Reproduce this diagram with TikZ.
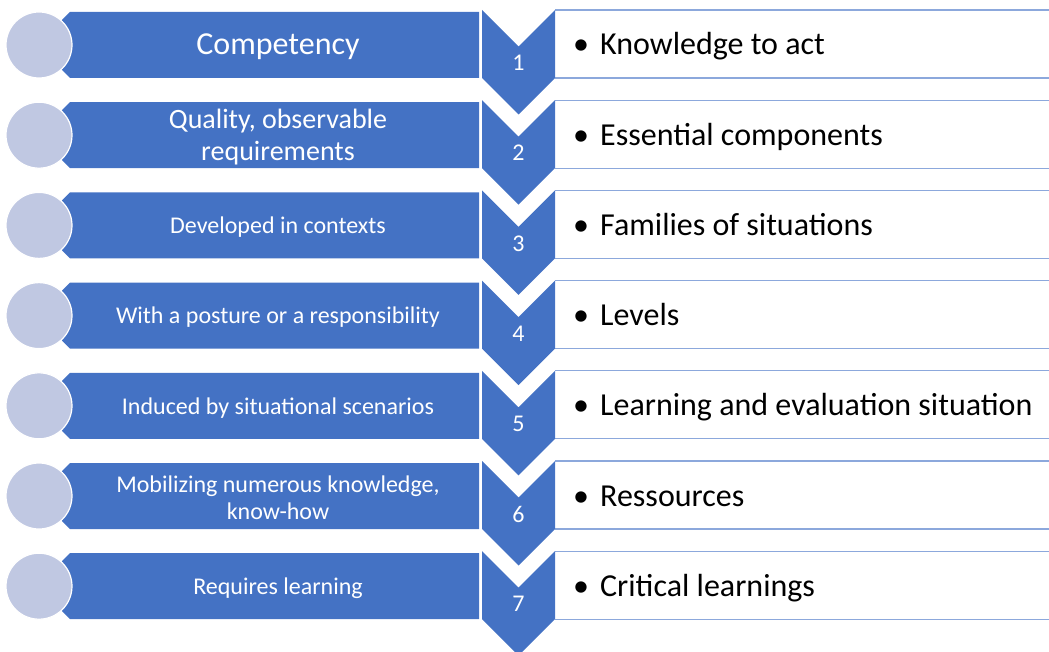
\documentclass[tikz,border=0pt]{standalone}
\usepackage{fontspec}
\setmainfont{Carlito}
\usepackage{xcolor}
\definecolor{barblue}{RGB}{68,114,196}
\definecolor{disccol}{RGB}{192,200,226}
\definecolor{edgeblue}{RGB}{140,168,220}

\begin{document}
\begin{tikzpicture}[x=1pt,y=-1pt,
  barshape/.style={fill=barblue},
  chevshape/.style={fill=barblue},
  disc/.style={circle,fill=disccol,draw=white,line width=1.2pt,minimum size=66pt,inner sep=0pt},
  bartext/.style={text=white,align=center,inner sep=0pt},
  numtext/.style={text=white,font=\fontsize{24}{26}\selectfont},
  itemtext/.style={anchor=base west,inner sep=0pt,text=black,font=\fontsize{32}{36}\selectfont}]
\useasboundingbox (0,0) rectangle (1049,652);

\foreach \i/\s/\lbl/\itm in {
  0/32/{Competency}/{Knowledge to act},
  1/28/{Quality, observable\\requirements}/{Essential components},
  2/24/{Developed in contexts}/{Families of situations},
  3/24/{With a posture or a responsibility}/{Levels},
  4/24/{Induced by situational scenarios}/{Learning and evaluation situation},
  5/24/{Mobilizing numerous knowledge,\\know-how}/{Ressources},
  6/24/{Requires learning}/{Critical learnings}}
{
  \pgfmathsetmacro\t{12+90.2*\i}
  \pgfmathsetmacro\bs{\s*1.12}
  \pgfmathtruncatemacro\n{\i+1}
  % left bar and its disc
  \fill[barshape] (70,\t) -- (479,\t) -- (479,\t+66) -- (70,\t+66)
    -- (62,\t+58) -- (62,\t+8) -- cycle;
  \node[disc] (disc\n) at (39,\t+33) {};
  \node[bartext,font=\fontsize{\s}{\bs}\selectfont] (bar\n) at (278,\t+35) {\lbl};
  % box on the right
  \draw[edgeblue,line width=1.3pt] (555,\t-2) -- (1049,\t-2)
    (555,\t+66) -- (1049,\t+66);
  \node[itemtext] (item\n) at (573,\t+43) {\makebox[27pt][l]{\textbullet}\itm};
  % chevron with the number
  \fill[chevshape] (482,\t-2) -- (518.5,\t+34.5) -- (555,\t-2) -- (555,\t+66)
    -- (518.5,\t+102.5) -- (482,\t+66) -- cycle;
  \node[numtext] (num\n) at (518.5,\t+51) {\n};
}
\end{tikzpicture}
\end{document}
